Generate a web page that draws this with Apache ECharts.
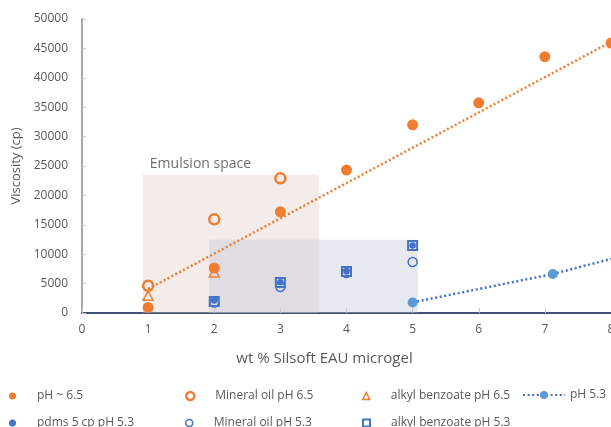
<!DOCTYPE html>
<html><head><meta charset="utf-8">
<script src="https://cdn.jsdelivr.net/npm/echarts@6/dist/echarts.min.js"></script>
<style>html,body{margin:0;padding:0;background:#fff}#c{width:611px;height:427px}</style>
</head><body><div id="c"></div>
<script>
// ---- data ----
const xTickMin = 0, xTickMax = 8, xTickStep = 1;
const yTickMin = 0, yTickMax = 50000, yTickStep = 5000;
const xTitle = 'wt % Silsoft EAU microgel';
const yTitle = 'Viscosity (cp)';

const ph65_x = [1, 2, 3, 4, 5, 6, 7, 8];
const ph65_y = [950, 7650, 17200, 24300, 32000, 35750, 43600, 45900];
const mo65_x = [1, 2, 3];
const mo65_y = [4640, 15930, 22900];
const ab65_x = [1, 2];
const ab65_y = [2940, 6900];
const ph53_x = [5, 7.12, 9];
const ph53_y = [1800, 6630, 12100];
const pdms_x = [2, 3, 4, 5];
const pdms_y = [2140, 5250, 7050, 11460];
const mo53_x = [2, 3, 4, 5];
const mo53_y = [1800, 4420, 6800, 8670];
const ab53_x = [2, 3, 4, 5];
const ab53_y = [1970, 5200, 7070, 11460];
const trend_x = [1, 8];
const trend_y = [4100, 46100];

const areaLabels = ['Emulsion space', ''];
const areaX = [[0.92, 3.58], [1.92, 5.08]];
const areaY = [[0, 23520], [0, 12460]];

const names = ['pH ~ 6.5', 'Mineral oil pH 6.5', 'alkyl benzoate pH 6.5', 'pH 5.3',
               'pdms 5 cp pH 5.3', 'Mineral oil pH 5.3', 'alkyl benzoate pH 5.3'];

// ---- styling ----
const ORANGE = '#ED7D31', BLUE = '#4472C4', LBLUE = '#5B9BD5';
const TXT = '#595959';
const FONT = 'Open Sans';
const zip = (xs, ys) => xs.map((x, i) => [x, ys[i]]);

const chart = echarts.init(document.getElementById('c'), null, {renderer: 'canvas'});

function legendAt(name, left, top, iconStyle, extra) {
  return Object.assign({
    show: true, left: left, top: top, padding: 0,
    itemWidth: 7, itemHeight: 7, selectedMode: false,
    data: [Object.assign({name: name}, iconStyle)],
    textStyle: {color: TXT, fontFamily: FONT, fontSize: 12, padding: [0, 0, 0, 16]}
  }, extra || {});
}

const option = {
  animation: false,
  backgroundColor: '#fff',
  grid: {left: 82, right: 0, top: 19, bottom: 114, containLabel: false, outerBoundsMode: 'none'},
  xAxis: [{
    type: 'value', min: xTickMin, max: xTickMax, interval: xTickStep,
    name: xTitle, nameLocation: 'middle', nameGap: 38,
    nameTextStyle: {color: TXT, fontFamily: FONT, fontSize: 15, padding: [0, 44, 0, 0]},
    axisLine: {show: true, onZero: false, lineStyle: {color: '#A5A8AE', width: 2}},
    axisTick: {show: true, inside: true, length: 5, lineStyle: {color: '#C8C8C8'}},
    axisLabel: {color: TXT, fontFamily: FONT, fontSize: 12, margin: 11, hideOverlap: false},
    splitLine: {show: false}
  }, {
    type: 'value', position: 'top', min: xTickMin, max: xTickMax,
    axisLine: {show: true, lineStyle: {color: '#203864', width: 1.5}},
    axisTick: {show: false}, axisLabel: {show: false}, splitLine: {show: false}
  }],
  yAxis: {
    type: 'value', min: yTickMin, max: yTickMax, interval: yTickStep,
    name: yTitle, nameLocation: 'middle', nameGap: 52, nameRotate: 90,
    nameTextStyle: {color: TXT, fontFamily: FONT, fontSize: 13},
    axisLine: {show: true, lineStyle: {color: '#A5A8AE', width: 2}},
    axisTick: {show: true, inside: true, length: 4, lineStyle: {color: '#C8C8C8'}},
    axisLabel: {color: TXT, fontFamily: FONT, fontSize: 12, margin: 14, formatter: v => String(v)},
    splitLine: {show: false}
  },
  legend: [
    legendAt(names[0], 9, 390, {icon: 'circle', itemStyle: {color: ORANGE}}),
    legendAt(names[1], 185, 390, {icon: 'circle', itemStyle: {color: '#fff', borderColor: ORANGE, borderWidth: 2.5}}, {itemWidth: 8, itemHeight: 8}),
    legendAt(names[2], 362, 390, {icon: 'triangle', itemStyle: {color: '#fff', borderColor: ORANGE, borderWidth: 1.5}}, {itemWidth: 7, itemHeight: 7}),
    legendAt(names[3], 522, 389, {}, {itemWidth: 42, itemHeight: 10, textStyle: {color: TXT, fontFamily: FONT, fontSize: 12}}),
    legendAt(names[4], 9, 417, {icon: 'circle', itemStyle: {color: BLUE}}),
    legendAt(names[5], 185, 417, {icon: 'circle', itemStyle: {color: '#fff', borderColor: BLUE, borderWidth: 1.5}}, {itemWidth: 7, itemHeight: 7}),
    legendAt(names[6], 362, 417, {icon: 'rect', itemStyle: {color: '#fff', borderColor: BLUE, borderWidth: 2}}, {itemWidth: 7, itemHeight: 7})
  ],
  series: [
    {
      name: 'areas', type: 'scatter', data: [], z: 1, silent: true,
      markArea: {
        silent: true,
        data: areaX.map((ax, i) => [
          {name: areaLabels[i], xAxis: ax[0], yAxis: areaY[i][0],
           itemStyle: {color: i === 0 ? 'rgba(222,198,188,0.33)' : 'rgba(188,194,214,0.36)'},
           label: {show: i === 0, position: [7, -18], color: '#6e6e6e', fontFamily: FONT, fontSize: 14}},
          {xAxis: ax[1], yAxis: areaY[i][1]}
        ])
      }
    },
    {name: names[0], type: 'scatter', z: 3, data: zip(ph65_x, ph65_y), symbol: 'circle', symbolSize: 11,
     itemStyle: {color: ORANGE, opacity: 1}},
    {name: names[1], type: 'scatter', z: 3, data: zip(mo65_x, mo65_y), symbol: 'circle', symbolSize: 10,
     itemStyle: {color: 'rgba(255,255,255,0)', borderColor: ORANGE, borderWidth: 2.5, opacity: 1}},
    {name: names[2], type: 'scatter', z: 3, data: zip(ab65_x, ab65_y), symbol: 'triangle', symbolSize: [10, 9],
     itemStyle: {color: 'rgba(255,255,255,0)', borderColor: ORANGE, borderWidth: 1.5, opacity: 1}},
    {name: names[3], type: 'line', z: 3, data: zip(ph53_x, ph53_y), symbol: 'circle', symbolSize: 10, showSymbol: true,
     clip: true, itemStyle: {color: LBLUE}, lineStyle: {color: BLUE, width: 2.5, type: [2, 2.6], cap: 'butt'}},
    {name: names[4], type: 'scatter', z: 3, data: zip(pdms_x, pdms_y), symbol: 'circle', symbolSize: 6.5,
     itemStyle: {color: BLUE, opacity: 1}},
    {name: names[5], type: 'scatter', z: 3, data: zip(mo53_x, mo53_y), symbol: 'circle', symbolSize: 9,
     itemStyle: {color: 'rgba(255,255,255,0)', borderColor: BLUE, borderWidth: 1.5, opacity: 1}},
    {name: names[6], type: 'scatter', z: 3, data: zip(ab53_x, ab53_y), symbol: 'rect', symbolSize: 9,
     itemStyle: {color: 'rgba(255,255,255,0)', borderColor: BLUE, borderWidth: 2, opacity: 1}},
    {name: 'trend', type: 'line', z: 4, data: zip(trend_x, trend_y), symbol: 'none', silent: true,
     lineStyle: {color: ORANGE, width: 2.5, type: [2, 2.4], cap: 'butt'}}
  ]
};
chart.setOption(option);
</script>
</body></html>
